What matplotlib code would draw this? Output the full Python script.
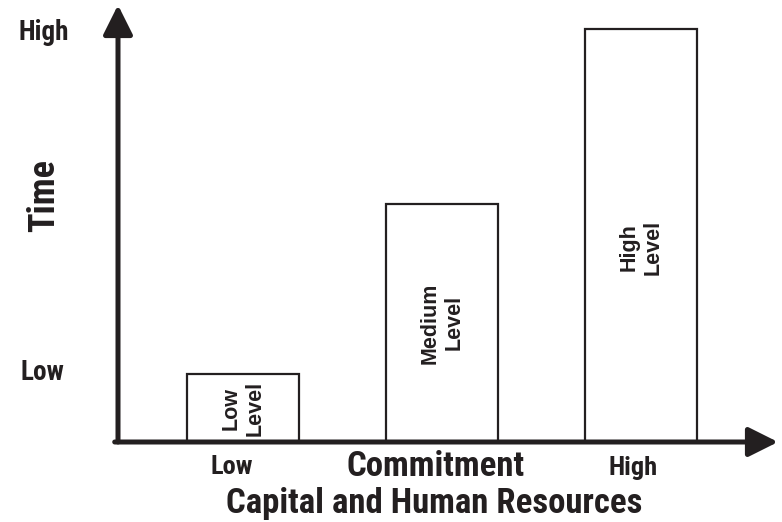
import matplotlib
matplotlib.use('Agg')
import matplotlib.pyplot as plt
from matplotlib import font_manager

# dados
niveis = ['Low\nLevel', 'Medium\nLevel', 'High\nLevel']
posicoes = [0, 1, 2]
tempos = [1.55, 5.45, 9.45]
rotulos_x = ['Low', 'Commitment', 'High']
rotulos_y = ['Low', 'High']

# procura uma fonte estreita que tenha negrito instalado
candidatas = ['Roboto Condensed', 'Archivo Narrow', 'PT Sans Narrow',
              'Fira Sans Condensed', 'Barlow Semi Condensed', 'Oswald']
negritos = set(f.name for f in font_manager.fontManager.ttflist
               if isinstance(f.weight, int) and f.weight >= 600
               or f.weight in ('bold', 'semibold', 'demibold'))
fonte_eixo = [c for c in candidatas if c in negritos][:1] + ['DejaVu Sans']
fonte_barra = ['Liberation Sans', 'DejaVu Sans']

cor = '#231f20'
W, H = 782, 522

fig = plt.figure(figsize=(W / 100, H / 100), dpi=100)
# area do grafico: origem em (118, 442) px, pontas das setas em x=778 e y=5
ax = fig.add_axes([118 / W, 80 / H, 660 / W, 437 / H])
ax.set_xlim(-0.628, 2.688)
ax.set_ylim(0, 10)
ax.axis('off')

ax.bar(posicoes, tempos, width=0.563, color='white', edgecolor=cor,
       linewidth=1.6, zorder=2)

# textos dentro das barras
centros_y = [tempos[0] / 2, tempos[1] / 2, 4.45]
for p, t, cy in zip(posicoes, niveis, centros_y):
    ax.text(p, cy, t, rotation=90, ha='center', va='center',
            fontsize=15.5, fontweight='bold', family=fonte_barra,
            color=cor, linespacing=1.15, zorder=3)

# eixos com setas
seta = dict(arrowstyle='-|>,head_length=0.9,head_width=0.45', lw=3.6,
            color=cor, mutation_scale=20, shrinkA=0, shrinkB=0)
ax.annotate('', xy=(1, 0), xytext=(-0.005, 0), xycoords='axes fraction',
            arrowprops=seta, annotation_clip=False, zorder=4)
ax.annotate('', xy=(0, 1), xytext=(0, 0), xycoords='axes fraction',
            arrowprops=seta, annotation_clip=False, zorder=4)

# rotulos
kw = dict(fontweight='bold', family=fonte_eixo, color=cor)
fig.text(44 / W, 1 - 33 / H, rotulos_y[1], ha='center', va='center', fontsize=19.5, **kw)
fig.text(42 / W, 1 - 373 / H, rotulos_y[0], ha='center', va='center', fontsize=19.5, **kw)
fig.text(44 / W, 1 - 196 / H, 'Time', ha='center', va='center', rotation=90,
         fontsize=26, **kw)

fig.text(232 / W, 1 - 467 / H, rotulos_x[0], ha='center', va='center', fontsize=19, **kw)
fig.text(436 / W, 1 - 466 / H, rotulos_x[1], ha='center', va='center', fontsize=25, **kw)
fig.text(633 / W, 1 - 468 / H, rotulos_x[2], ha='center', va='center', fontsize=19, **kw)
fig.text(434 / W, 1 - 503 / H, 'Capital and Human Resources', ha='center',
         va='center', fontsize=25, **kw)

fig.savefig('out.png', dpi=100, facecolor='white')
